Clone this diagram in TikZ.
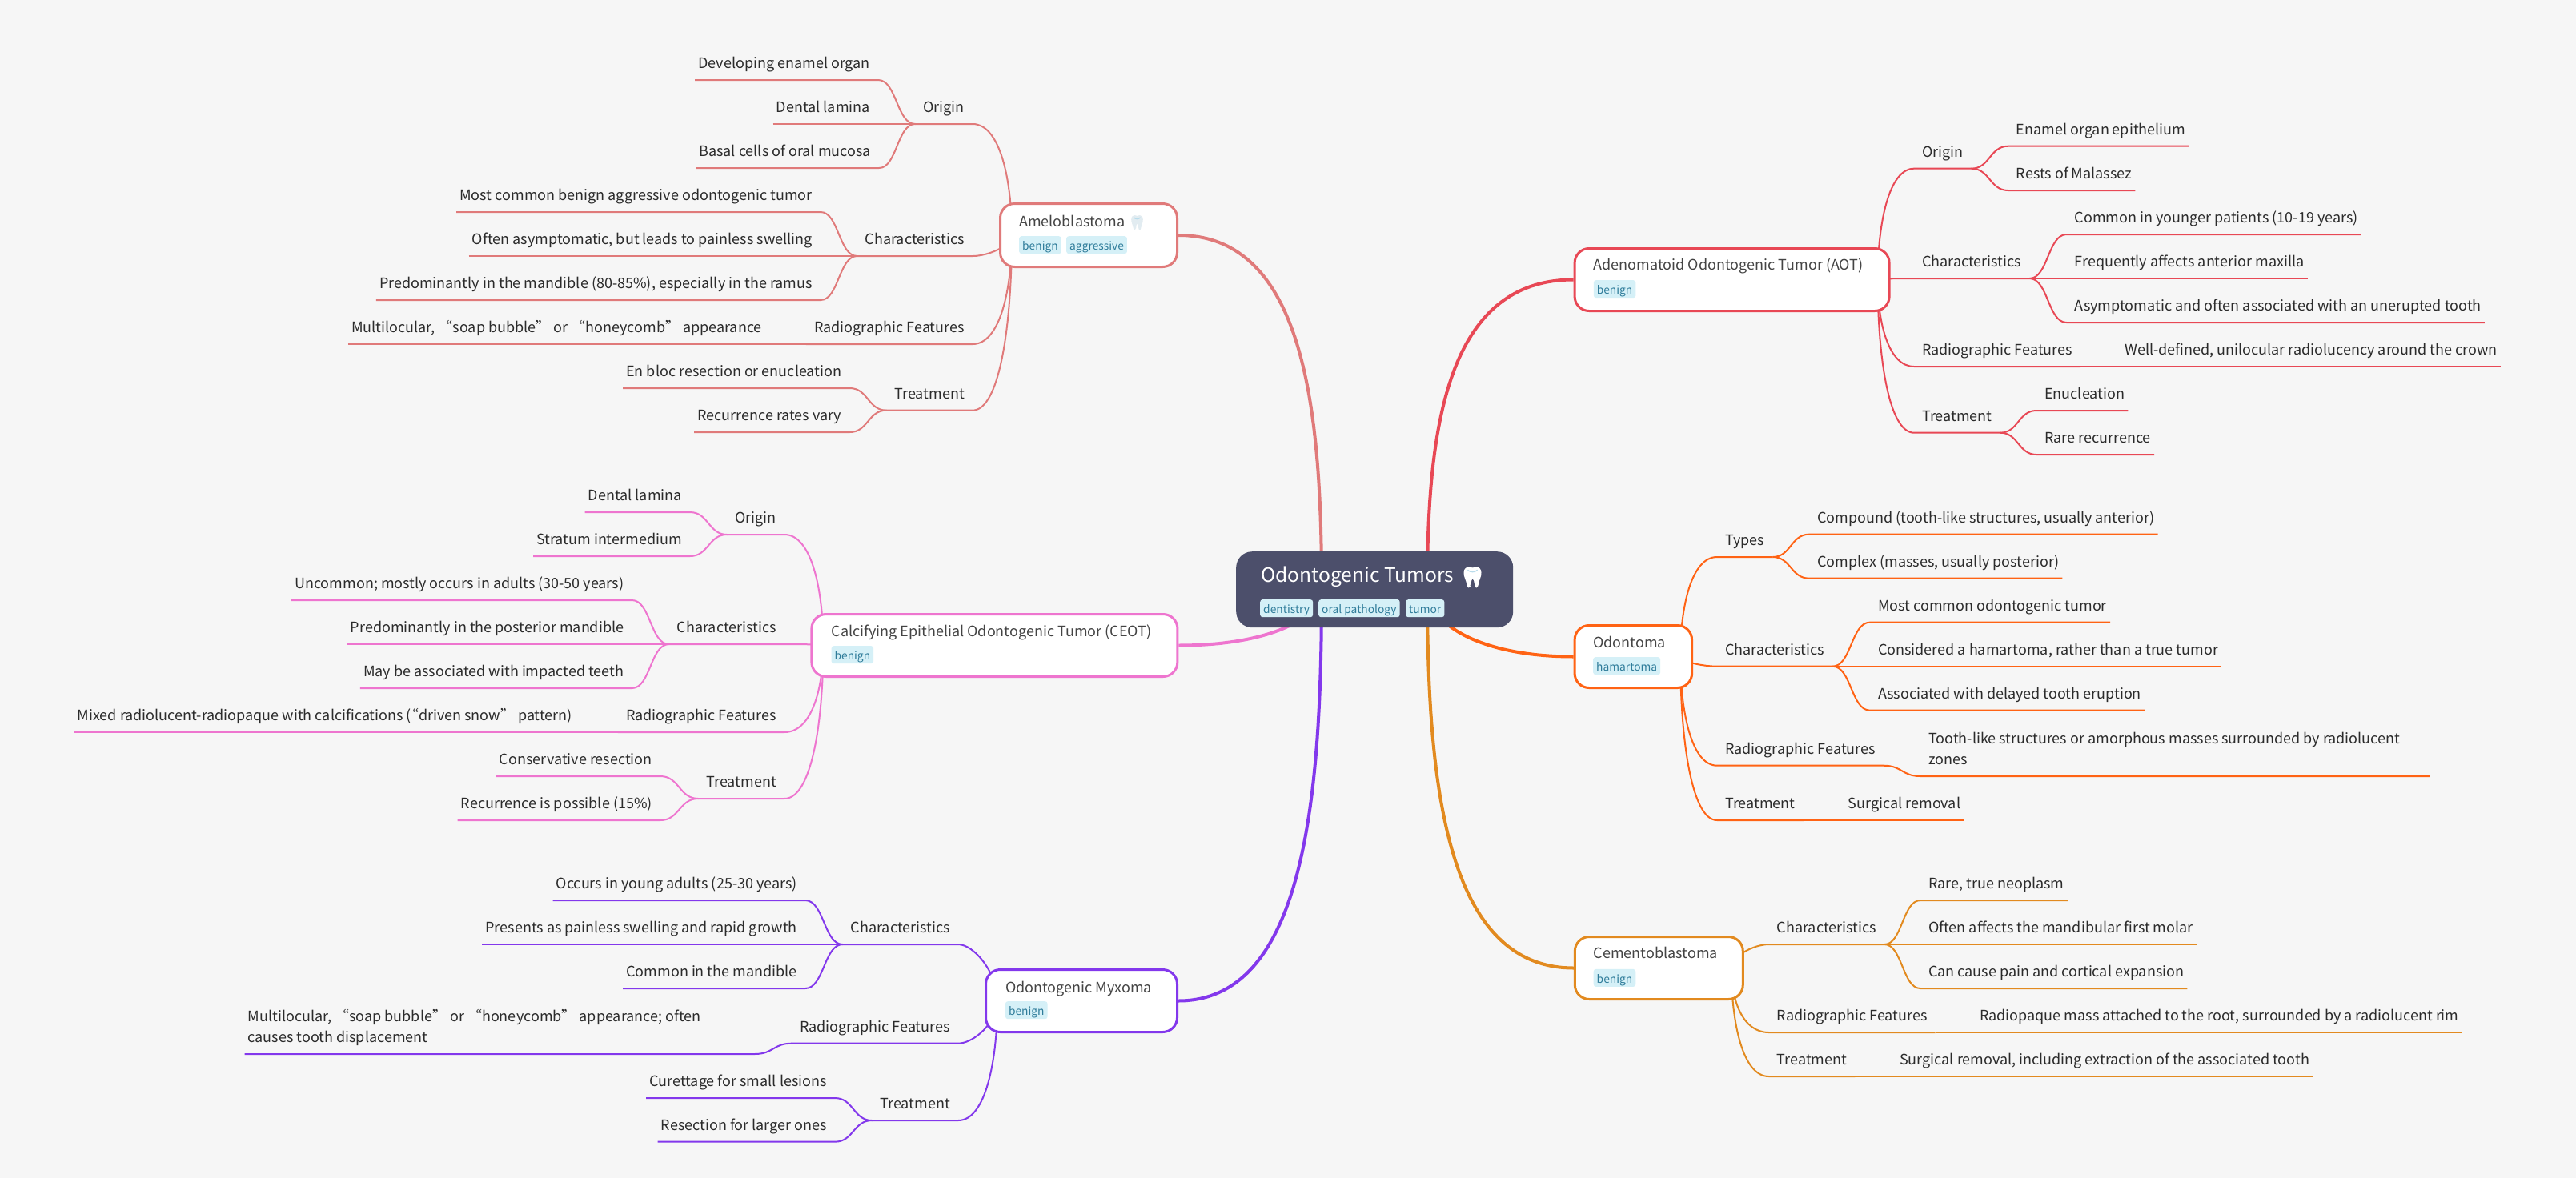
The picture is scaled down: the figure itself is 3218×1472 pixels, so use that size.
\documentclass[tikz,border=0pt]{standalone}
\usepackage{fontspec}
\setmainfont{Noto Sans CJK SC}
\newfontfamily\emojifont{Noto Emoji}
\usetikzlibrary{calc,backgrounds}
\definecolor{bgc}{HTML}{F6F6F6}
\definecolor{rootc}{HTML}{4C4F6B}
\definecolor{tagf}{HTML}{D5F0F7}
\definecolor{tagt}{HTML}{2F7C9A}
\definecolor{leaft}{HTML}{2B2B2B}
\definecolor{nodet}{HTML}{444444}
\definecolor{cam}{HTML}{E07A7A}
\definecolor{cao}{HTML}{E84855}
\definecolor{cod}{HTML}{FF6314}
\definecolor{cce}{HTML}{E28A1F}
\definecolor{cmx}{HTML}{8338EC}
\definecolor{cca}{HTML}{EE75CF}
\definecolor{toothb}{HTML}{B9DCEB}
\definecolor{toothp}{HTML}{E2ECF1}
\tikzset{
  x=1pt,y=-1pt,
  leaf/.style={font=\fontsize{18}{26.4}\selectfont,text=leaft,inner xsep=4pt,inner ysep=0pt,text depth=14.4pt},
  lab/.style={leaf,inner xsep=10pt},
  sub/.style={draw=#1,line width=2pt},
  mainl/.style={draw=#1,line width=4pt},
  branch/.style={draw=#1,fill=white,line width=3pt,rounded corners=18pt,inner sep=0pt,anchor=north west},
  title/.style={font=\fontsize{18}{22}\selectfont,text=nodet,inner sep=0pt,anchor=base west},
  tagbox/.style={font=\fontsize{13.8}{16}\selectfont,text=tagt,fill=tagf,rounded corners=3pt,inner xsep=4pt,inner ysep=0pt,text height=17.5pt,text depth=4.5pt,anchor=north west},
  toothglyph/.style={inner sep=0pt,anchor=center},
}
% tooth silhouette behind the emoji: centre, half width, half height, fill
\newcommand{\toothfill}[5]{%
  \begin{scope}[shift={(#1,#2)},x=#3pt,y=-#4pt]
  \fill[#5] (-1,-0.45) .. controls (-1,-0.85) and (-0.7,-1) .. (-0.4,-1) .. controls (-0.2,-1) and (-0.1,-0.9) .. (0,-0.9)
    .. controls (0.1,-0.9) and (0.2,-1) .. (0.4,-1) .. controls (0.7,-1) and (1,-0.85) .. (1,-0.45)
    .. controls (1,0) and (0.75,0.2) .. (0.65,0.7) .. controls (0.6,0.95) and (0.5,1) .. (0.42,1)
    .. controls (0.2,1) and (0.25,0.15) .. (0,0.15) .. controls (-0.25,0.15) and (-0.2,1) .. (-0.42,1)
    .. controls (-0.5,1) and (-0.6,0.95) .. (-0.65,0.7) .. controls (-0.75,0.2) and (-1,0) .. (-1,-0.45) -- cycle;
  \draw[toothb,line width=1.2pt] (-0.55,-0.72) .. controls (-0.3,-0.45) and (0.3,-0.45) .. (0.55,-0.72);
  \end{scope}}
% name, colour, parent, text right, y, text
\newcommand{\leafL}[6]{%
  \node[leaf,anchor=south east] (#1) at (#4+4,#5) {#6};
  \begin{scope}[on background layer]
  \draw[sub=#2] let \p1=($(#1.south east)+(6,0)$),\p2=(#3),\n1={0.5*(\x1+\x2)} in
    (#1.south west) -- (\p1) .. controls (\n1,\y1) and (\n1,\y2) .. (\p2);
  \end{scope}}
\newcommand{\leafR}[6]{%
  \node[leaf,anchor=south west] (#1) at (#4-4,#5) {#6};
  \begin{scope}[on background layer]
  \draw[sub=#2] let \p1=($(#1.south west)+(-6,0)$),\p2=(#3),\n1={0.5*(\x1+\x2)} in
    (#1.south east) -- (\p1) .. controls (\n1,\y1) and (\n1,\y2) .. (\p2);
  \end{scope}}
% [f], name, colour, origin, text edge, y, text
\newcommand{\labL}[7][0.3]{%
  \node[lab,anchor=south east] (#2) at (#5+10,#6) {#7};
  \begin{scope}[on background layer]
  \draw[sub=#3] let \p1=(#4),\p2=(#2.south east),\n1={\x1+#1*(\x2-\x1)},\n2={\y1+0.5*(\y2-\y1)} in
    (#2.south west) -- (\p2) .. controls (\n1,\y2) and (\x1,\n2) .. (\p1);
  \end{scope}}
\newcommand{\labR}[7][0.3]{%
  \node[lab,anchor=south west] (#2) at (#5-10,#6) {#7};
  \begin{scope}[on background layer]
  \draw[sub=#3] let \p1=(#4),\p2=(#2.south west),\n1={\x1+#1*(\x2-\x1)},\n2={\y1+0.5*(\y2-\y1)} in
    (#2.south east) -- (\p2) .. controls (\n1,\y2) and (\x1,\n2) .. (\p1);
  \end{scope}}
% [f], colour, root coordinate, branch anchor
\newcommand{\mainlink}[4][0.115]{%
  \begin{scope}[on background layer]
  \draw[mainl=#2] let \p1=(#3),\p2=(#4),\n1={\x1+#1*(\x2-\x1)},\n2={\y1+0.5*(\y2-\y1)} in
    (\p1) .. controls (\x1,\n2) and (\n1,\y2) .. (\p2);
  \end{scope}}
\begin{document}
\begin{tikzpicture}
\useasboundingbox (0,0) rectangle (3218,1472);
\begin{scope}[on background layer]
\fill[bgc] (0,0) rectangle (3218,1472);
\end{scope}
% root
\node[fill=rootc,rounded corners=20pt,minimum width=346pt,minimum height=95pt,inner sep=0pt,anchor=north west] (root) at (1544,689) {};
\node[inner sep=0pt,anchor=base west,text=white,font=\fontsize{24.6}{30}\selectfont] (roott) at (1575,727) {Odontogenic Tumors};
\node[toothglyph,text=white,font={\emojifont\fontsize{24}{30}\selectfont}] (rootem) at (1839.5,721.5) {🦷};
\toothfill{1839.5}{721.5}{11}{13}{white}
\node[tagbox] (tg1) at (1574,749) {dentistry};
\node[tagbox] (tg2) at (1647,749) {oral pathology};
\node[tagbox] (tg3) at (1756,749) {tumor};
\coordinate (rootL) at (1651,736);
\coordinate (rootR) at (1783,736);
% branch nodes
\node[branch=cam,minimum width=221pt,minimum height=79pt] (AM) at (1248,253) {};
\node[title] (AMt) at (1273,283) {Ameloblastoma};
\node[toothglyph,text=toothp,font={\emojifont\fontsize{16}{20}\selectfont}] (AMem) at (1420.5,278.5) {🦷};
\toothfill{1420.5}{278.5}{7.3}{9.3}{toothp}
\node[tagbox] (AMa) at (1273,295) {benign};
\node[tagbox] (AMb) at (1332,295) {aggressive};
\node[branch=cca,minimum width=457pt,minimum height=78pt] (CE) at (1012.4,766) {};
\node[title] (CEt) at (1038.4,795) {Calcifying Epithelial Odontogenic Tumor (CEOT)};
\node[tagbox] (CEa) at (1038.4,807) {benign};
\node[branch=cmx,minimum width=239pt,minimum height=78pt] (MX) at (1230,1210) {};
\node[title] (MXt) at (1255.8,1240) {Odontogenic Myxoma};
\node[tagbox] (MXa) at (1255.8,1251) {benign};
\node[branch=cao,minimum width=393pt,minimum height=78pt] (AO) at (1965.6,309) {};
\node[title] (AOt) at (1990.6,337) {Adenomatoid Odontogenic Tumor (AOT)};
\node[tagbox] (AOa) at (1990.6,350) {benign};
\node[branch=cod,minimum width=146.5pt,minimum height=78pt] (OD) at (1965.6,780) {};
\node[title] (ODt) at (1990,809) {Odontoma};
\node[tagbox] (ODa) at (1990,821) {hamartoma};
\node[branch=cce,minimum width=210pt,minimum height=78pt] (CB) at (1965.8,1169) {};
\node[title] (CBt) at (1990.5,1197.7) {Cementoblastoma};
\node[tagbox] (CBa) at (1990.5,1210.7) {benign};
% main links
\mainlink{cam}{rootL}{AM.east}
\mainlink{cao}{rootR}{AO.west}
\mainlink[0.35]{cca}{rootL}{CE.east}
\mainlink[0.35]{cod}{rootR}{OD.west}
\mainlink{cmx}{rootL}{MX.east}
\mainlink{cce}{rootR}{CB.west}
% origins
\coordinate (AMo) at ($(AM.west)+(16,0)$);
\coordinate (CEo) at ($(CE.west)+(16,0)$);
\coordinate (MXo) at ($(MX.west)+(16,0)$);
\coordinate (AOo) at ($(AO.east)+(-16,0)$);
\coordinate (ODo) at ($(OD.east)+(-16,0)$);
\coordinate (CBo) at ($(CB.east)+(-16,0)$);
% Ameloblastoma
\labL{am1}{cam}{AMo}{1205}{155}{Origin}
\labL[0.6]{am2}{cam}{AMo}{1205}{320}{Characteristics}
\labL{am3}{cam}{AMo}{1205}{430}{Radiographic Features}
\labL{am4}{cam}{AMo}{1205}{512.7}{Treatment}
\leafL{am1a}{cam}{am1.south west}{1087}{100}{Developing enamel organ}
\leafL{am1b}{cam}{am1.south west}{1087}{155}{Dental lamina}
\leafL{am1c}{cam}{am1.south west}{1088}{210}{Basal cells of oral mucosa}
\leafL{am2a}{cam}{am2.south west}{1015}{265}{Most common benign aggressive odontogenic tumor}
\leafL{am2b}{cam}{am2.south west}{1015}{320}{Often asymptomatic, but leads to painless swelling}
\leafL{am2c}{cam}{am2.south west}{1015}{375}{Predominantly in the mandible (80-85\%), especially in the ramus}
\leafL{am3a}{cam}{am3.south west}{952}{430}{Multilocular, “soap bubble” or “honeycomb” appearance}
\leafL{am4a}{cam}{am4.south west}{1051.5}{485}{En bloc resection or enucleation}
\leafL{am4b}{cam}{am4.south west}{1051.5}{540}{Recurrence rates vary}
% CEOT
\labL{ce1}{cca}{CEo}{970}{668}{Origin}
\labL{ce2}{cca}{CEo}{970}{805}{Characteristics}
\labL{ce3}{cca}{CEo}{970}{915}{Radiographic Features}
\labL{ce4}{cca}{CEo}{970}{998}{Treatment}
\leafL{ce1a}{cca}{ce1.south west}{852}{640}{Dental lamina}
\leafL{ce1b}{cca}{ce1.south west}{852}{695}{Stratum intermedium}
\leafL{ce2a}{cca}{ce2.south west}{779.5}{750}{Uncommon; mostly occurs in adults (30-50 years)}
\leafL{ce2b}{cca}{ce2.south west}{779.5}{805}{Predominantly in the posterior mandible}
\leafL{ce2c}{cca}{ce2.south west}{779.5}{860}{May be associated with impacted teeth}
\leafL{ce3a}{cca}{ce3.south west}{715}{915}{Mixed radiolucent-radiopaque with calcifications (\kern-9pt“driven snow” pattern)}
\leafL{ce4a}{cca}{ce4.south west}{815}{970}{Conservative resection}
\leafL{ce4b}{cca}{ce4.south west}{815}{1025}{Recurrence is possible (15\%)}
% Myxoma
\labL[0.6]{mx1}{cmx}{MXo}{1187}{1180}{Characteristics}
\labL[0.6]{mx2}{cmx}{MXo}{1187}{1303.7}{Radiographic Features}
\labL{mx3}{cmx}{MXo}{1187}{1400}{Treatment}
\leafL{mx1a}{cmx}{mx1.south west}{996}{1125}{Occurs in young adults (25-30 years)}
\leafL{mx1b}{cmx}{mx1.south west}{996}{1180}{Presents as painless swelling and rapid growth}
\leafL{mx1c}{cmx}{mx1.south west}{996}{1235}{Common in the mandible}
\leafL{mx2a}{cmx}{mx2.south west}{933}{1317}{\parbox[b]{623pt}{\raggedright Multilocular, “soap bubble” or “honeycomb” appearance; often\\causes tooth displacement}}
\leafL{mx3a}{cmx}{mx3.south west}{1033}{1372}{Curettage for small lesions}
\leafL{mx3b}{cmx}{mx3.south west}{1033}{1426.7}{Resection for larger ones}
% AOT
\labR{ao1}{cao}{AOo}{2401}{210.7}{Origin}
\labR{ao2}{cao}{AOo}{2401}{348}{Characteristics}
\labR{ao3}{cao}{AOo}{2401}{458}{Radiographic Features}
\labR{ao4}{cao}{AOo}{2401}{540.7}{Treatment}
\leafR{ao1a}{cao}{ao1.south east}{2518.6}{182.7}{Enamel organ epithelium}
\leafR{ao1b}{cao}{ao1.south east}{2518.6}{238}{Rests of Malassez}
\leafR{ao2a}{cao}{ao2.south east}{2591.5}{293}{Common in younger patients (10-19 years)}
\leafR{ao2b}{cao}{ao2.south east}{2591.5}{348}{Frequently affects anterior maxilla}
\leafR{ao2c}{cao}{ao2.south east}{2591.5}{403}{Asymptomatic and often associated with an unerupted tooth}
\leafR{ao3a}{cao}{ao3.south east}{2654}{458}{Well-defined, unilocular radiolucency around the crown}
\leafR{ao4a}{cao}{ao4.south east}{2554}{513}{Enucleation}
\leafR{ao4b}{cao}{ao4.south east}{2554}{568}{Rare recurrence}
% Odontoma
\labR{od1}{cod}{ODo}{2155}{696}{Types}
\labR[0.6]{od2}{cod}{ODo}{2155}{832.7}{Characteristics}
\labR{od3}{cod}{ODo}{2155}{956.7}{Radiographic Features}
\labR{od4}{cod}{ODo}{2155}{1025}{Treatment}
\leafR{od1a}{cod}{od1.south east}{2270}{667.7}{Compound (tooth-like structures, usually anterior)}
\leafR{od1b}{cod}{od1.south east}{2270}{722.7}{Complex (masses, usually posterior)}
\leafR{od2a}{cod}{od2.south east}{2345.8}{777.7}{Most common odontogenic tumor}
\leafR{od2b}{cod}{od2.south east}{2345.8}{832.7}{Considered a hamartoma, rather than a true tumor}
\leafR{od2c}{cod}{od2.south east}{2345.8}{887.7}{Associated with delayed tooth eruption}
\leafR{od3a}{cod}{od3.south east}{2409}{970}{\parbox[b]{622pt}{\raggedright Tooth-like structures or amorphous masses surrounded by radiolucent\\zones}}
\leafR{od4a}{cod}{od4.south east}{2308.6}{1025}{Surgical removal}
% Cementoblastoma
\labR[0.6]{cb1}{cce}{CBo}{2219.6}{1180}{Characteristics}
\labR{cb2}{cce}{CBo}{2219.6}{1290}{Radiographic Features}
\labR{cb3}{cce}{CBo}{2219.6}{1345}{Treatment}
\leafR{cb1a}{cce}{cb1.south east}{2409}{1125}{Rare, true neoplasm}
\leafR{cb1b}{cce}{cb1.south east}{2409}{1180}{Often affects the mandibular first molar}
\leafR{cb1c}{cce}{cb1.south east}{2409}{1235}{Can cause pain and cortical expansion}
\leafR{cb2a}{cce}{cb2.south east}{2473}{1290}{Radiopaque mass attached to the root, surrounded by a radiolucent rim}
\leafR{cb3a}{cce}{cb3.south east}{2373}{1345}{Surgical removal, including extraction of the associated tooth}
\end{tikzpicture}
\end{document}
